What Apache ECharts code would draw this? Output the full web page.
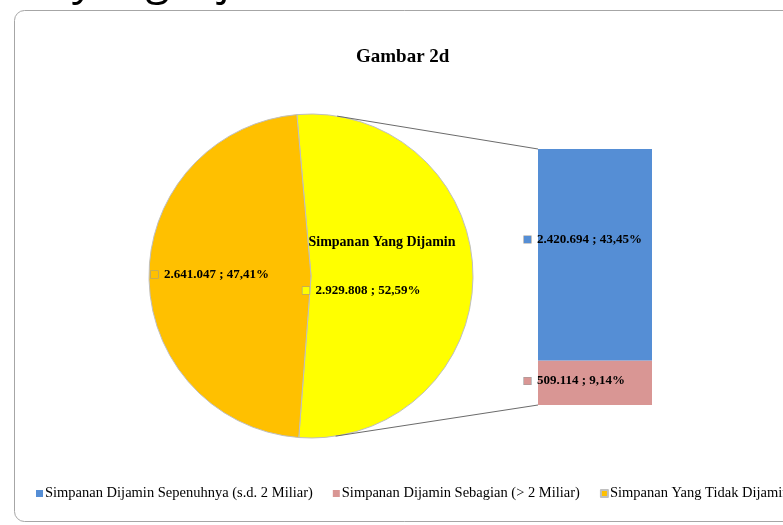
<!DOCTYPE html>
<html>
<head>
<meta charset="utf-8">
<script src="https://cdn.jsdelivr.net/npm/echarts@6/dist/echarts.min.js"></script>
<style>html,body{margin:0;padding:0;background:#fff;}#c{width:783px;height:525px;}</style>
</head>
<body>
<div id="c"></div>
<script>
// ---- data ----
const pieCategories = ['Simpanan Yang Dijamin', 'Simpanan Yang Tidak Dijamin'];
const pieValues = [2929808, 2641047];
const barCategories = ['Simpanan Dijamin Sepenuhnya (s.d. 2 Miliar)', 'Simpanan Dijamin Sebagian (> 2 Miliar)'];
const barValues = [2420694, 509114];
const legendOrder = ['Simpanan Dijamin Sepenuhnya (s.d. 2 Miliar)', 'Simpanan Dijamin Sebagian (> 2 Miliar)', 'Simpanan Yang Tidak Dijamin'];
const titleText = 'Gambar 2d';

// ---- styles ----
const pieColors = ['#FFFF00', '#FFC000'];
const barColors = ['#558ED5', '#D99694'];
const FONT = '"Liberation Serif", "DejaVu Serif", serif';

const grand = pieValues.reduce((a, b) => a + b, 0);
const barTotal = barValues.reduce((a, b) => a + b, 0);
function fmtNum(v) { return String(v).replace(/\B(?=(\d{3})+(?!\d))/g, '.'); }
function fmtPct(v) { return (v / grand * 100).toFixed(2).replace('.', ',') + '%'; }
function valText(v) { return fmtNum(v) + ' ; ' + fmtPct(v); }

const PIE_C = [311, 276], PIE_R = 162;
const GRID = { left: 538, right: 131, top: 149, bottom: 120 };

function sq(color) {
  return { width: 7, height: 7, backgroundColor: color, borderColor: '#9a9a9a', borderWidth: 0.6, align: 'left' };
}
const valStyle = { fontFamily: FONT, fontSize: 13, fontWeight: 'bold', color: '#000', padding: [0, 0, 0, 6], align: 'left' };

const chart = echarts.init(document.getElementById('c'));
const option = {
  animation: false,
  backgroundColor: '#fff',
  title: {
    text: titleText, left: 356, top: 48, padding: 0,
    textStyle: { fontFamily: FONT, fontSize: 19, fontWeight: 'bold', color: '#000' }
  },
  legend: {
    data: legendOrder, left: 36, top: 486, width: 1200, padding: 0,
    itemWidth: 7, itemHeight: 7, itemGap: 20, icon: 'rect',
    textStyle: { fontFamily: FONT, fontSize: 14.5, color: '#000', padding: [0, 0, 0, -3] }
  },
  graphic: [
    { type: 'rect', shape: { x: 14.5, y: 10.5, width: 900, height: 511, r: 10 }, style: { fill: 'none', stroke: '#a6a6a6', lineWidth: 1 }, silent: true },
    { type: 'text', left: 72, top: -41, style: { text: 'yang dijamin', fontFamily: '"Open Sans", sans-serif', fontSize: 44, fill: '#000' }, silent: true }
  ],
  grid: { left: GRID.left, right: GRID.right, top: GRID.top, bottom: GRID.bottom },
  xAxis: { type: 'category', data: ['x'], show: false },
  yAxis: { type: 'value', min: 0, max: barTotal, show: false },
  series: [
    {
      type: 'bar', name: barCategories[1], stack: 's', barWidth: '100%',
      data: [barValues[1]], itemStyle: { color: barColors[1] },
      label: {
        show: true, position: [-14, 14],
        formatter: p => '{sq|}{v|' + valText(p.value) + '}',
        rich: { sq: sq(barColors[1]), v: valStyle }
      }
    },
    {
      type: 'bar', name: barCategories[0], stack: 's', barWidth: '100%',
      data: [barValues[0]], itemStyle: { color: barColors[0] },
      label: {
        show: true, position: [-14, 84],
        formatter: p => '{sq|}{v|' + valText(p.value) + '}',
        rich: { sq: sq(barColors[0]), v: valStyle }
      }
    },
    {
      type: 'pie', name: 'pie', center: PIE_C, radius: PIE_R, startAngle: 95, clockwise: true,
      data: pieCategories.map((n, i) => ({ name: n, value: pieValues[i], itemStyle: { color: pieColors[i] } })),
      itemStyle: { borderColor: '#bfbfbf', borderWidth: 1 },
      emphasis: { disabled: true },
      label: {
        show: true, position: 'inside', color: '#000',
        formatter: p => p.dataIndex === 0
          ? '{n|' + p.name + '}\n{gap|}\n{sq0|}{v|' + valText(p.value) + '}'
          : '{sq1|}{v|' + valText(p.value) + '}',
        rich: {
          n: { fontFamily: FONT, fontSize: 14, fontWeight: 'bold', color: '#000', padding: [0, 0, 0, 6], lineHeight: 18, align: 'left' },
          gap: { height: 30, lineHeight: 30, align: 'left' },
          v: Object.assign({ lineHeight: 18 }, valStyle),
          sq0: sq(pieColors[0]),
          sq1: sq(pieColors[1])
        }
      },
      labelLine: { show: false },
      labelLayout: p => p.dataIndex === 0 ? { dx: -16, dy: -9 } : { dx: -17, dy: -2 }
    }
  ]
};
chart.setOption(option);

// connector lines from pie to bar corners (added directly to zrender, no re-layout)
function tangentPoint(P, upper) {
  const dx = P[0] - PIE_C[0], dy = P[1] - PIE_C[1];
  const d = Math.sqrt(dx * dx + dy * dy);
  const th = Math.atan2(dy, dx);
  const a = Math.acos(PIE_R / d);
  const c1 = [PIE_C[0] + PIE_R * Math.cos(th + a), PIE_C[1] + PIE_R * Math.sin(th + a)];
  const c2 = [PIE_C[0] + PIE_R * Math.cos(th - a), PIE_C[1] + PIE_R * Math.sin(th - a)];
  return upper ? (c1[1] < c2[1] ? c1 : c2) : (c1[1] > c2[1] ? c1 : c2);
}
const topY = chart.convertToPixel({ yAxisIndex: 0 }, barTotal);
const botY = chart.convertToPixel({ yAxisIndex: 0 }, 0);
const barLeft = GRID.left;
const pTop = [barLeft, topY], pBot = [barLeft, botY];
const tTop = tangentPoint(pTop, true), tBot = tangentPoint(pBot, false);
const zr = chart.getZr();
[[tTop, pTop], [tBot, pBot]].forEach(([a, b]) => {
  zr.add(new echarts.graphic.Line({
    shape: { x1: a[0], y1: a[1], x2: b[0], y2: b[1] },
    style: { stroke: '#6b6b6b', lineWidth: 1 }, silent: true, z: 100
  }));
});
</script>
</body>
</html>
